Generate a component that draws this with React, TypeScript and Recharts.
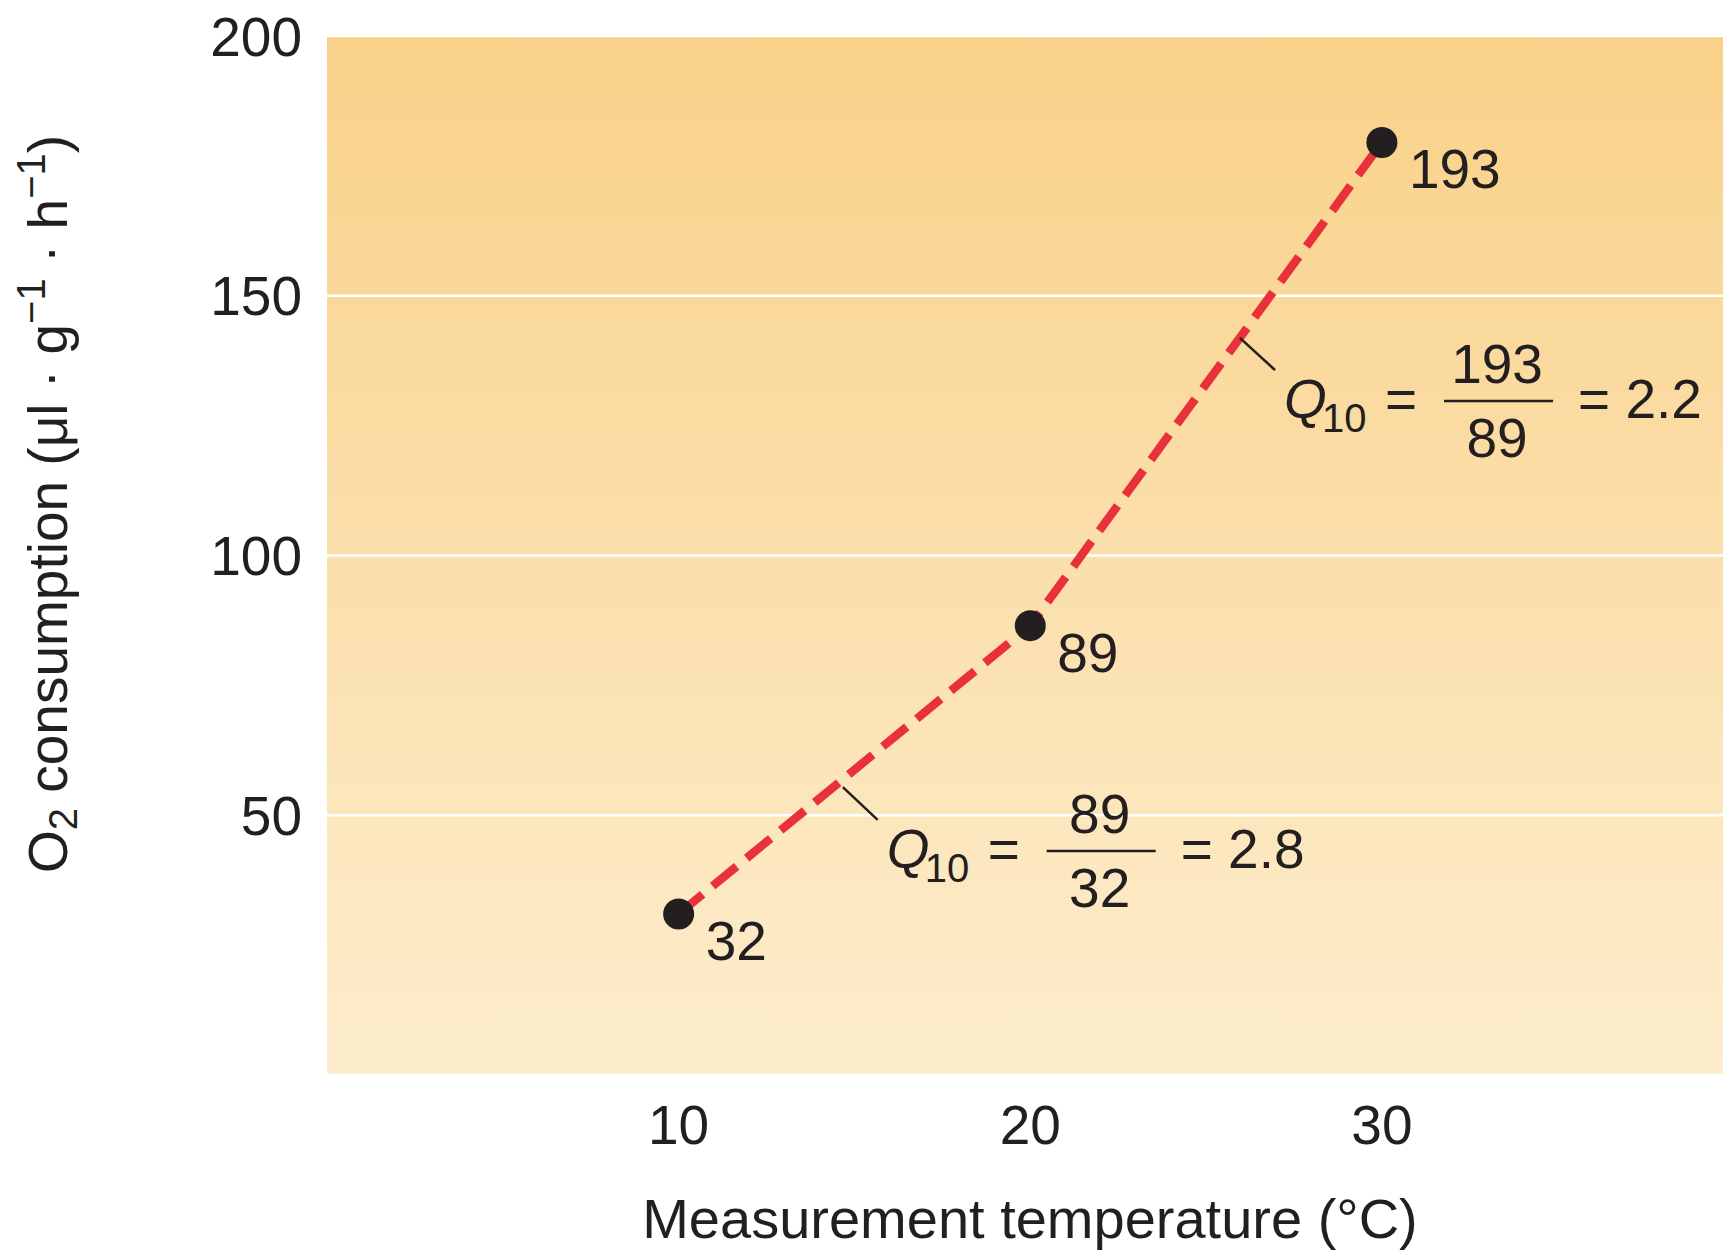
import React from "react";
import {
  LineChart,
  Line,
  XAxis,
  YAxis,
  CartesianGrid,
  ReferenceLine,
  ReferenceDot,
  Label,
} from "recharts";

// measured temperatures (°C) and O2 consumption as drawn in the figure
const temperatures = [10, 20, 30];
const o2Consumption = [31, 86.5, 179.5];
const pointLabels = ["32", "89", "193"];

const xTicks = [10, 20, 30];
const yTicks = [50, 100, 150, 200];

// Q10 annotations: leader line (data coords) + fraction text
const leaderStarts = [
  { x: 14.67, y: 55.4 },
  { x: 25.96, y: 141.9 },
];
const leaderEnds = [
  { x: 15.66, y: 49.1 },
  { x: 26.96, y: 135.7 },
];
const q10Numerators = ["89", "193"];
const q10Denominators = ["32", "89"];
const q10Results = ["2.8", "2.2"];

const FONT = "'Liberation Sans', Arial, Helvetica, sans-serif";
const INK = "#231f20";
const RED = "#e8313a";

const data = temperatures.map((t, i) => ({
  temp: t,
  o2: o2Consumption[i],
  label: pointLabels[i],
}));

function PointDot(props: any) {
  const { cx, cy, payload } = props;
  if (cx == null || cy == null) return null;
  return (
    <g>
      <circle cx={cx} cy={cy} r={15.5} fill={INK} />
      <text x={cx + 27} y={cy + 46} fontSize={55} fontFamily={FONT} fill={INK}>
        {payload.label}
      </text>
    </g>
  );
}

function Q10Formula({ cx, cy, num, den, res }: any) {
  const x0 = cx + 9;
  const y0 = cy + 48;
  return (
    <g fontFamily={FONT} fill={INK}>
      <text x={x0} y={y0} fontSize={55} fontStyle="italic">
        Q
      </text>
      <text x={x0 + 38} y={y0 + 14} fontSize={40}>
        10
      </text>
      <text x={x0 + 101} y={y0} fontSize={55}>
        =
      </text>
      <line x1={x0 + 160} x2={x0 + 269} y1={y0 - 17} y2={y0 - 17} stroke={INK} strokeWidth={2.5} />
      <text x={x0 + 213} y={y0 - 35} fontSize={55} textAnchor="middle">
        {num}
      </text>
      <text x={x0 + 213} y={y0 + 39} fontSize={55} textAnchor="middle">
        {den}
      </text>
      <text x={x0 + 294} y={y0} fontSize={55}>
        = {res}
      </text>
    </g>
  );
}

export default function App() {
  return (
    <div style={{ position: "absolute", left: 0, top: 0, width: 1723, height: 1252, background: "#fff" }}>
      <LineChart
        width={1723}
        height={1252}
        data={data}
        margin={{ top: 36, right: 0, bottom: 0, left: 0 }}
      >
        <defs>
          <linearGradient id="bgGrad" x1="0" y1="0" x2="0" y2="1">
            <stop offset="0%" stopColor="#f9d189" />
            <stop offset="100%" stopColor="#fdedcd" />
          </linearGradient>
        </defs>
        <CartesianGrid
          vertical={false}
          stroke="#ffffff"
          strokeWidth={2.5}
          fill="url(#bgGrad)"
          fillOpacity={1}
        />
        <XAxis
          type="number"
          dataKey="temp"
          domain={[0, 39.7]}
          allowDataOverflow
          ticks={xTicks}
          axisLine={false}
          tickLine={false}
          tickSize={0}
          tickMargin={30}
          height={177}
          tick={{ fontSize: 55, fill: INK, fontFamily: FONT }}
        >
          <Label
            content={(p: any) => {
              const vb = p.viewBox || { x: 327, y: 1075, width: 1396 };
              return (
                <text
                  x={vb.x + 703}
                  y={vb.y + 163}
                  textAnchor="middle"
                  fontSize={56}
                  fontFamily={FONT}
                  fill={INK}
                >
                  Measurement temperature (°C)
                </text>
              );
            }}
          />
        </XAxis>
        <YAxis
          type="number"
          domain={[0, 200]}
          ticks={yTicks}
          axisLine={false}
          tickLine={false}
          tickSize={0}
          tickMargin={25}
          width={327}
          tick={{ fontSize: 55, fill: INK, fontFamily: FONT }}
        >
          <Label
            content={() => {
              const x = 67;
              const y = 504;
              return (
                <text
                  x={x}
                  y={y}
                  transform={`rotate(-90, ${x}, ${y})`}
                  textAnchor="middle"
                  fontSize={55}
                  fontFamily={FONT}
                  fill={INK}
                >
                  O
                  <tspan dy={10} fontSize={40}>2</tspan>
                  <tspan dy={-10}> consumption (μl · g</tspan>
                  <tspan dy={-22} fontSize={40}>−1</tspan>
                  <tspan dy={22}> · h</tspan>
                  <tspan dy={-22} fontSize={40}>−1</tspan>
                  <tspan dy={22}>)</tspan>
                </text>
              );
            }}
          />
        </YAxis>
        <Line
          type="linear"
          dataKey="o2"
          stroke={RED}
          strokeWidth={8.5}
          strokeDasharray="31 13"
          dot={<PointDot />}
          activeDot={false}
          isAnimationActive={false}
        />
        {leaderStarts.map((s, i) => (
          <ReferenceLine
            key={`leader-${i}`}
            segment={[s, leaderEnds[i]]}
            stroke={INK}
            strokeWidth={2.5}
          />
        ))}
        {leaderEnds.map((e, i) => (
          <ReferenceDot
            key={`q10-${i}`}
            x={e.x}
            y={e.y}
            r={0}
            shape={(p: any) => (
              <Q10Formula
                cx={p.cx}
                cy={p.cy}
                num={q10Numerators[i]}
                den={q10Denominators[i]}
                res={q10Results[i]}
              />
            )}
          />
        ))}
      </LineChart>
    </div>
  );
}
